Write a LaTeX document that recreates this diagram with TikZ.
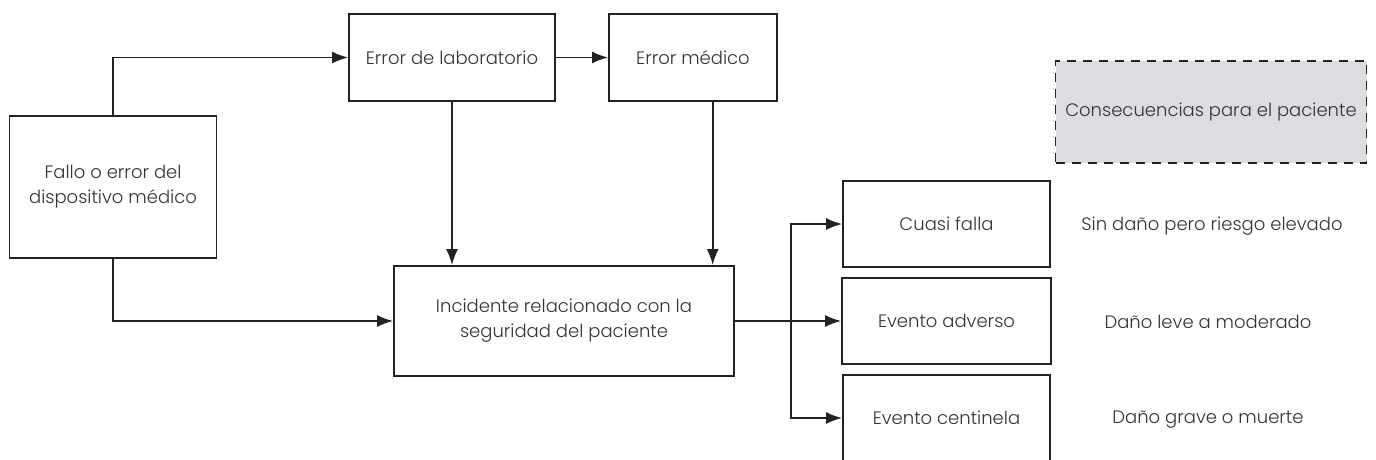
\documentclass[tikz,border=0pt]{standalone}
\usepackage{fontspec}
\setmainfont{Poppins}[UprightFont={* Light}]
\usepackage{xcolor}
\usetikzlibrary{arrows.meta}
\definecolor{txtgray}{HTML}{333333}
\definecolor{linegray}{HTML}{222222}
\definecolor{boxgray}{HTML}{DCDDE0}

\begin{document}
\begin{tikzpicture}[x=1pt,y=-1pt,font=\fontsize{18}{25}\selectfont,text=txtgray]
\tikzstyle{rect}=[draw=linegray, line width=1.8pt, align=center, inner sep=0pt]
\tikzstyle{dashrect}=[draw=linegray, fill=boxgray, line width=1.8pt, dash pattern=on 9pt off 7pt, align=center, inner sep=0pt]
\tikzstyle{note}=[align=center, inner sep=0pt]
\tikzstyle{arr}=[draw=linegray, line width=1.8pt, -{Latex[length=16pt,width=12pt]}]
\useasboundingbox (0,0) rectangle (1376,459);
\clip (0,0) rectangle (1376,459);

\node (f) [rect, minimum width=207pt, minimum height=142pt] at (113,187) {Fallo o error del\\dispositivo médico};
\node (lab) [rect, minimum width=206pt, minimum height=87pt] at (452,57.5) {Error de laboratorio};
\node (med) [rect, minimum width=168pt, minimum height=87pt] at (693,57.5) {Error médico};
\node (cons) [dashrect, minimum width=311pt, minimum height=102pt] at (1211,112) {Consecuencias para el paciente};
\node (inc) [rect, minimum width=340pt, minimum height=110pt] at (564,321) {Incidente relacionado con la\\seguridad del paciente};

\node (cf) [rect, minimum width=207pt, minimum height=86pt] at (946.5,224) {Cuasi falla};
\node (ea) [rect, minimum width=209pt, minimum height=86pt] at (946.5,321) {Evento adverso};
\node (ec) [rect, minimum width=207pt, minimum height=86pt] at (946.5,418) {Evento centinela};

\node (cfn) [note] at (1212,226) {Sin daño pero riesgo elevado};
\node (ean) [note] at (1208,322) {Daño leve a moderado};
\node (ecn) [note] at (1208,420) {Daño grave o muerte};

\path[arr] (f.north) |- (lab.west);
\path[arr] (lab.east) -- (med.west);
\path[arr] (lab.south) -- (lab.south |- inc.north);
\path[arr] ([xshift=19.7pt]med.south) -- ([xshift=19.7pt]med.south |- inc.north);
\path[arr] (f.south) |- (inc.west);

\coordinate (br) at (790.7,321);
\path[arr] (inc.east) -- (ea.west);
\path[arr] (br) |- (cf.west);
\path[arr] (br) |- (ec.west);
\end{tikzpicture}
\end{document}
